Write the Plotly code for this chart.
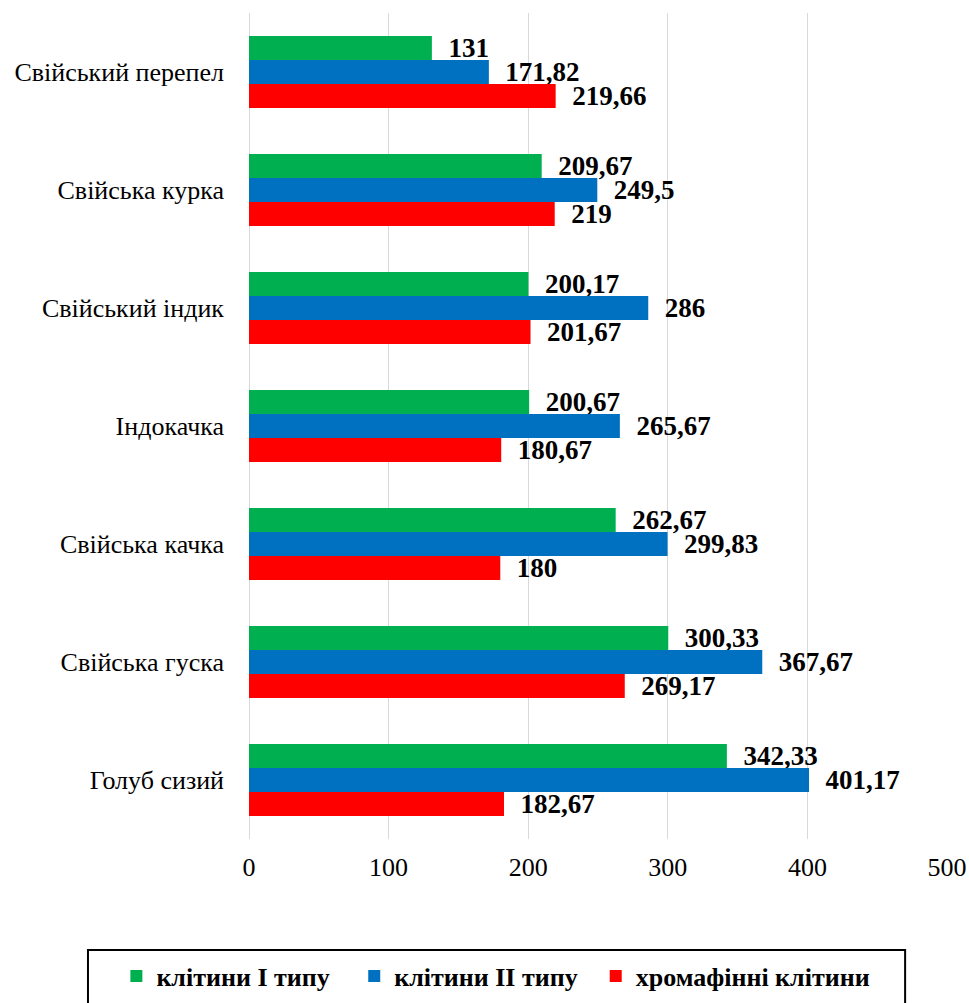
import plotly.graph_objects as go

# Birds (top to bottom) and cell counts for each cell type
birds = [
    "Свійський перепел",
    "Свійська курка",
    "Свійський індик",
    "Індокачка",
    "Свійська качка",
    "Свійська гуска",
    "Голуб сизий",
]
type1_cells = [131, 209.67, 200.17, 200.67, 262.67, 300.33, 342.33]
type2_cells = [171.82, 249.5, 286, 265.67, 299.83, 367.67, 401.17]
chromaffin_cells = [219.66, 219, 201.67, 180.67, 180, 269.17, 182.67]

series_names = ["клітини І типу", "клітини ІІ типу", "хромафінні клітини"]
series_values = [type1_cells, type2_cells, chromaffin_cells]
series_colors = ["#00B050", "#0070C0", "#FF0000"]

x_ticks = [0, 100, 200, 300, 400, 500]

SERIF = "Liberation Serif"
NBSP = "\u00a0"
# trailing non-breaking spaces widen the legend entries a little
legend_pad = [3, 2, 0]

fig = go.Figure()
for name, vals, color, pad in zip(series_names, series_values, series_colors, legend_pad):
    fig.add_trace(go.Bar(
        y=birds,
        x=vals,
        name=name + NBSP * pad,
        orientation="h",
        marker=dict(color=color, line=dict(width=0)),
        texttemplate=NBSP * 2 + "%{x}",
        textposition="outside",
        constraintext="none",
        cliponaxis=False,
        textfont=dict(family=SERIF, size=27, color="#000000", weight="bold"),
    ))

fig.update_layout(
    width=969,
    height=1003,
    margin=dict(l=249, r=22, t=13, b=164, autoexpand=False),
    paper_bgcolor="white",
    plot_bgcolor="white",
    barmode="group",
    bargap=0.39,
    bargroupgap=0,
    separators=", ",
    font=dict(family=SERIF, color="#000000"),
    showlegend=True,
    legend=dict(
        orientation="h",
        x=-0.19,
        xanchor="left",
        y=-0.166,
        yanchor="middle",
        itemwidth=30,
        font=dict(family=SERIF, size=26, color="#000000", weight="bold"),
        bgcolor="rgba(0,0,0,0)",
        traceorder="normal",
    ),
    shapes=[dict(
        type="rect",
        xref="paper", yref="paper",
        x0=-0.2307, x1=0.940, y0=-0.1344, y1=-0.21,
        line=dict(color="#000000", width=2),
        fillcolor="rgba(0,0,0,0)",
        layer="below",
    )],
)

fig.update_xaxes(
    range=[0, 500],
    tickvals=x_ticks,
    automargin=False,
    showgrid=True,
    gridcolor="#D9D9D9",
    gridwidth=1,
    zeroline=True,
    zerolinecolor="#D9D9D9",
    zerolinewidth=1,
    showline=False,
    ticks="",
    ticklabelstandoff=10,
    tickfont=dict(family=SERIF, size=26, color="#000000"),
)
fig.update_yaxes(
    autorange="reversed",
    automargin=False,
    showgrid=False,
    showline=False,
    ticks="",
    ticklabelstandoff=24,
    tickfont=dict(family=SERIF, size=26, color="#000000"),
)

fig.write_html("out.html")
